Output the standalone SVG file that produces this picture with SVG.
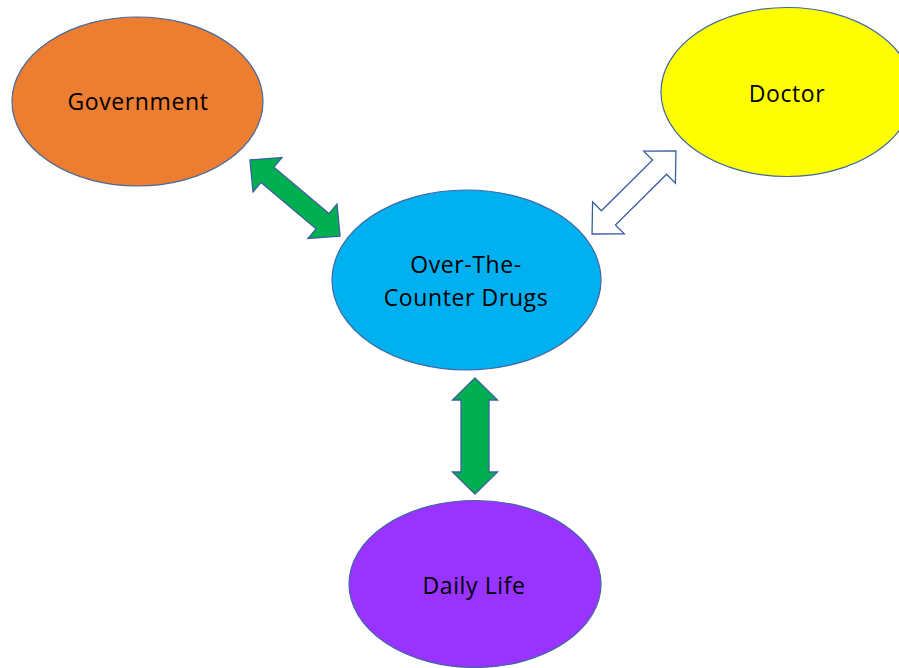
<svg xmlns="http://www.w3.org/2000/svg" width="899" height="668" viewBox="0 0 899 668">
  <style>
    .node { stroke: #41689F; stroke-width: 1.2; }
    .label { font-family: "Open Sans", "Liberation Sans", sans-serif; font-size: 23px; letter-spacing: 0.6px; fill: #000; text-anchor: middle; }
    .solid { fill: #00B050; stroke: #3A5FA0; stroke-width: 1.3; stroke-linejoin: miter; }
    .hollow { fill: #FFFFFF; stroke: #3A5FA0; stroke-width: 1.3; stroke-linejoin: miter; }
  </style>
  <defs>
    <!-- double-headed block arrow, drawn along the x axis, centred at the origin -->
    <path id="dbl" d="M -59 0 L -36 -22.5 L -36 -10 L 36 -10 L 36 -22.5 L 59 0 L 36 22.5 L 36 10 L -36 10 L -36 22.5 Z"/>
    <path id="dblWide" d="M -58 0 L -36 -22.5 L -36 -14 L 36 -14 L 36 -22.5 L 58 0 L 36 22.5 L 36 14 L -36 14 L -36 22.5 Z"/>
  </defs>
  <rect width="899" height="668" fill="#FFFFFF"/>

  <g id="connectors">
    <use href="#dbl" class="solid" transform="translate(295 198) rotate(40.2)"/>
    <use href="#dbl" class="hollow" transform="translate(634 192.5) rotate(-44.7)"/>
    <use href="#dblWide" class="solid" transform="translate(475 436) rotate(90)"/>
  </g>

  <g id="government">
    <ellipse class="node" cx="137.5" cy="101.5" rx="125.5" ry="84.5" fill="#ED7D31"/>
    <text class="label" x="138" y="110">Government</text>
  </g>

  <g id="doctor">
    <ellipse class="node" cx="787" cy="92" rx="126" ry="84.5" fill="#FFFF00"/>
    <text class="label" x="787" y="102">Doctor</text>
  </g>

  <g id="otc-drugs">
    <ellipse class="node" cx="466.5" cy="280" rx="134.5" ry="90" fill="#00B0F0"/>
    <text class="label" x="466" y="273">Over-The-</text>
    <text class="label" x="466" y="306">Counter Drugs</text>
  </g>

  <g id="daily-life">
    <ellipse class="node" cx="475" cy="584" rx="126" ry="83.5" fill="#9933FF"/>
    <text class="label" x="474" y="594">Daily Life</text>
  </g>
</svg>
